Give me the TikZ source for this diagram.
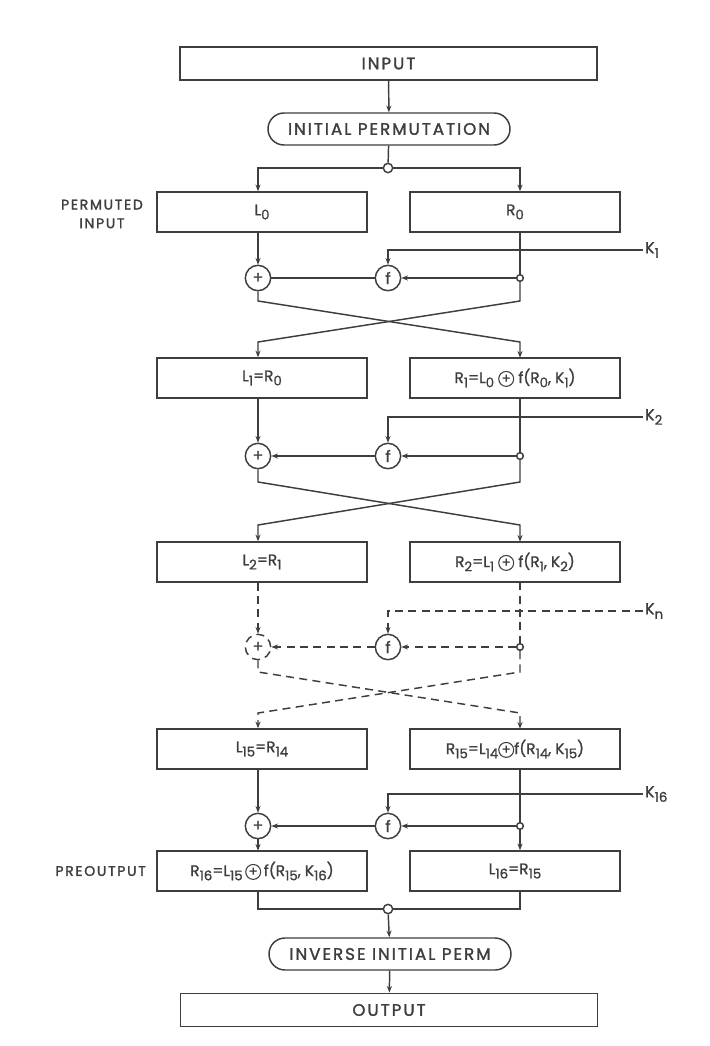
\documentclass[tikz,border=0pt]{standalone}
\usepackage{fontspec}
\setmainfont{Poppins}[FakeBold=1.2]
\newfontfamily\capsfont[LetterSpace=12,FakeBold=1.6]{Poppins}
\usepackage{tikz}
\usetikzlibrary{positioning,arrows.meta}
\definecolor{ink}{HTML}{3E3E3E}
\newcommand\lsub[1]{\raisebox{-0.5ex}{\fontsize{10}{10}\selectfont #1}}
\newcommand\xo{\tikz[baseline=(p.base)]\node[draw,circle,minimum size=0pt,inner sep=0.7pt,line width=0.8pt,font=\fontsize{10}{10}\selectfont] (p) {+};}

\begin{document}
\begin{tikzpicture}[x=0.75pt,y=-0.75pt,line width=1.1pt,color=ink,
  >={Stealth[length=5pt,width=3.8pt]},
  box/.style={draw,minimum width=157.5pt,minimum height=30pt,inner sep=1pt,font=\fontsize{11.5}{13}\selectfont},
  wide/.style={draw,minimum width=313pt,minimum height=25pt,font=\capsfont\fontsize{12.5}{14}\selectfont},
  pill/.style={draw,rounded corners=12pt,minimum width=181.5pt,minimum height=24pt,font=\capsfont\fontsize{12.5}{14}\selectfont},
  gate/.style={circle,draw,fill=white,minimum size=19pt,inner sep=0pt,font=\fontsize{12}{12}\selectfont},
  tap/.style={circle,draw,fill=white,minimum size=5pt,inner sep=0pt},
  key/.style={anchor=west,inner sep=1pt,font=\fontsize{12}{14}\selectfont},
  side/.style={align=center,anchor=east,font=\capsfont\fontsize{10.5}{14}\selectfont},
  later/.style={dash pattern=on 6pt off 4pt}]
  \useasboundingbox (0,0) rectangle (710,1046);

  % input and initial permutation
  \node[wide] (inp) at (388.5,63.5) {INPUT};
  \node[pill] (iperm) at (389,129) {INITIAL PERMUTATION};
  \node[tap,minimum size=7pt] (j0) at (388,168) {};
  \node[box] (l0) at (262,212) {L\lsub{0}};
  \node[box] (r0) at (515,212) {R\lsub{0}};
  \node[side] at (148,214) {PERMUTED\\INPUT};

  % round 1
  \node[gate] (x0) at (258,278) {+};
  \node[gate] (f0) at (388,278) {f};
  \node[tap] (d0) at (520,278) {};
  \node[key] (k0) at (643,250) {K\lsub{1}};
  \node[box] (l1) at (262,378) {L\lsub{1}=R\lsub{0}};
  \node[box] (r1) at (515,378) {R\lsub{1}=L\lsub{0} \xo\ f(R\lsub{0}, K\lsub{1})};

  % round 2
  \node[gate] (x1) at (258,456) {+};
  \node[gate] (f1) at (388,456) {f};
  \node[tap] (d1) at (520,456) {};
  \node[key] (k1) at (643,417) {K\lsub{2}};
  \node[box] (l2) at (262,562) {L\lsub{2}=R\lsub{1}};
  \node[box] (r2) at (515,562) {R\lsub{2}=L\lsub{1} \xo\ f(R\lsub{1}, K\lsub{2})};

  % rounds 3 to 15
  \node[gate,later] (x2) at (258,647) {+};
  \node[gate] (f2) at (388,647) {f};
  \node[tap] (d2) at (520,647) {};
  \node[key] (k2) at (643,611) {K\lsub{n}};
  \node[box] (l15) at (262,749) {L\lsub{15}=R\lsub{14}};
  \node[box] (r15) at (515,749) {R\lsub{15}=L\lsub{14}\xo f(R\lsub{14}, K\lsub{15})};

  % round 16
  \node[gate] (x3) at (258,826) {+};
  \node[gate] (f3) at (388,826) {f};
  \node[tap] (d3) at (520,826) {};
  \node[key] (k3) at (643,794) {K\lsub{16}};
  \node[box] (pre) at (262,871) {R\lsub{16}=L\lsub{15}\,\xo\,f(R\lsub{15}, K\lsub{16})};
  \node[box] (l16) at (515,871) {L\lsub{16}=R\lsub{15}};
  \node[side] at (151,871) {PREOUTPUT};

  % output
  \node[tap,minimum size=7pt] (j1) at (388,909) {};
  \node[pill] (iinv) at (390,954) {INVERSE INITIAL PERM};
  \node[wide] (out) at (389,1010) {OUTPUT};

  \draw[->] (inp) -- (iperm);
  \draw (iperm) -- (j0);
  \draw[->] (j0) -| (l0.north -| x0);
  \draw[->] (j0) -| (r0.north -| d0);

  \draw[->] (l0.south -| x0) -- (x0);
  \draw (r0.south -| d0) -- (d0);
  \draw[->] (k0.west) -| (f0);
  \draw[->] (d0) -- (f0);
  \draw (f0) -- (x0);
  \draw[->] (x0) -- (258,301) -- (520,342) -- (r1.north -| d0);
  \draw[->] (d0) -- (520,301) -- (258,342) -- (l1.north -| x0);

  \draw[->] (l1.south -| x1) -- (x1);
  \draw (r1.south -| d1) -- (d1);
  \draw[->] (k1.west) -| (f1);
  \draw[->] (d1) -- (f1);
  \draw[->] (f1) -- (x1);
  \draw[->] (x1) -- (258,482) -- (520,525) -- (r2.north -| d1);
  \draw[->] (d1) -- (520,482) -- (258,525) -- (l2.north -| x1);

  \draw[->,later] (l2.south -| x2) -- (x2);
  \draw[later] (r2.south -| d2) -- (d2);
  \draw[->,later] (k2.west) -| (f2);
  \draw[->,later] (d2) -- (f2);
  \draw[->,later] (f2) -- (x2);
  \draw[->,later] (x2) -- (258,672) -- (520,713) -- (r15.north -| d2);
  \draw[->,later] (d2) -- (520,672) -- (258,713) -- (l15.north -| x2);

  \draw[->] (l15.south -| x3) -- (x3);
  \draw (r15.south -| d3) -- (d3);
  \draw[->] (k3.west) -| (f3);
  \draw[->] (d3) -- (f3);
  \draw[->] (f3) -- (x3);
  \draw[->] (x3) -- (pre.north -| x3);
  \draw[->] (d3) -- (l16.north -| d3);

  \draw (pre.south -| x3) |- (j1);
  \draw (l16.south -| d3) |- (j1);
  \draw[->] (j1) -- (iinv);
  \draw[->] (iinv) -- (out);
\end{tikzpicture}
\end{document}
